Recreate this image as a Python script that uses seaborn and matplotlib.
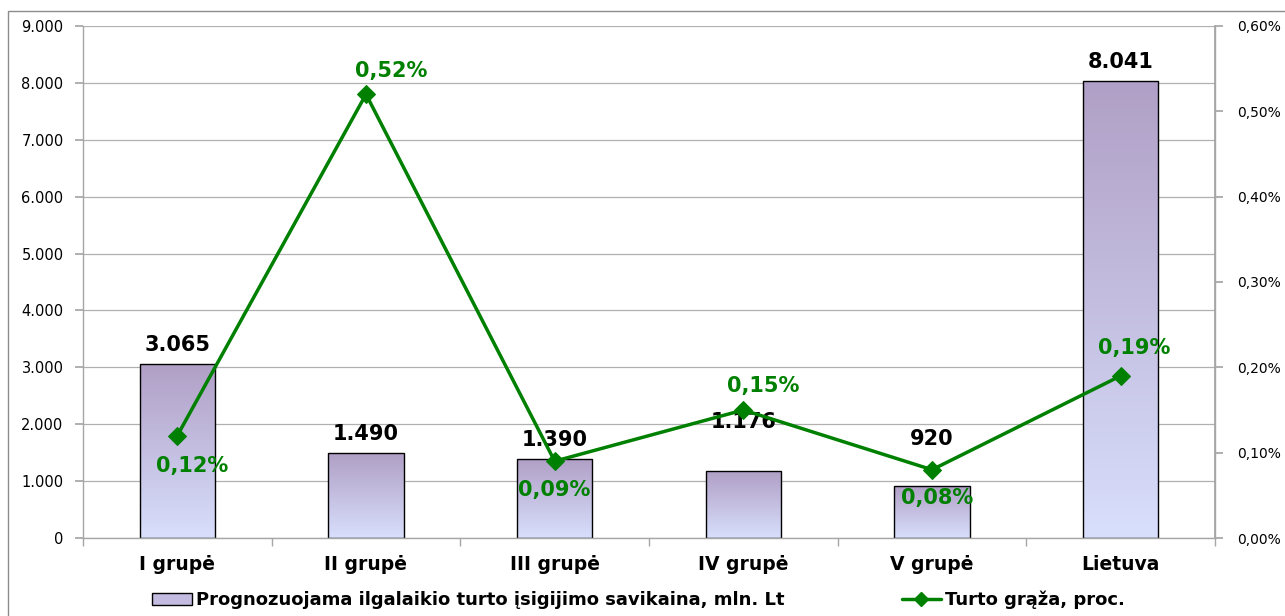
import numpy as np
import pandas as pd
import matplotlib.pyplot as plt
import matplotlib.patches as mpatches
from matplotlib.lines import Line2D
from matplotlib.ticker import FixedLocator, FuncFormatter
import seaborn as sns

# data
categories = ['I grupė', 'II grupė', 'III grupė', 'IV grupė', 'V grupė', 'Lietuva']
cost_mln_lt = [3065, 1490, 1390, 1176, 920, 8041]
return_pct = [0.12, 0.52, 0.09, 0.15, 0.08, 0.19]
bar_series = 'Prognozuojama ilgalaikio turto įsigijimo savikaina, mln. Lt'
line_series = 'Turto grąža, proc.'

df = pd.DataFrame({'grupe': categories, 'savikaina': cost_mln_lt, 'graza': return_pct})

sns.set_theme(style='white')
plt.rcParams['font.family'] = ['DejaVu Sans']
plt.rcParams['text.color'] = 'black'
plt.rcParams['xtick.color'] = 'black'
plt.rcParams['ytick.color'] = 'black'

GREEN = '#008000'
GRID = '#A6A6A6'
TOP_C = np.array([0xB0, 0x9F, 0xC6]) / 255
BOT_C = np.array([0xD8, 0xDF, 0xFC]) / 255

fig = plt.figure(figsize=(12.85, 6.16), dpi=100)
ax = fig.add_axes([83 / 1285, 1 - 538 / 616, (1215 - 83) / 1285, (538 - 26) / 616])

sns.barplot(data=df, x='grupe', y='savikaina', ax=ax, width=0.40,
            color='#C4BCE0', edgecolor='black', linewidth=1.0, zorder=2)

# vertical gradient fill for the bars
grad = np.linspace(0, 1, 256)[:, None, None]
img = TOP_C * (1 - grad) + BOT_C * grad
for p in list(ax.patches):
    x0, y0 = p.get_x(), p.get_y()
    w, h = p.get_width(), p.get_height()
    im = ax.imshow(img, extent=[x0, x0 + w, y0, y0 + h], aspect='auto',
                   origin='upper', zorder=1.9, interpolation='bilinear')
    im.set_clip_path(p)
    p.set_facecolor('none')

ax.set_xlim(-0.5, len(categories) - 0.5)
ax.set_ylim(0, 9000)
ax.yaxis.set_major_locator(FixedLocator(np.arange(0, 9001, 1000)))
ax.yaxis.set_major_formatter(FuncFormatter(lambda v, _: f'{int(v):,}'.replace(',', '.')))
ax.grid(axis='y', color='#B0B0B0', linewidth=0.9, zorder=0)
ax.set_axisbelow(True)
ax.set_xlabel('')
ax.set_ylabel('')
ax.spines['top'].set_visible(False)
for s in ['left', 'bottom', 'right']:
    ax.spines[s].set_color(GRID)
    ax.spines[s].set_linewidth(1.0)
ax.tick_params(axis='y', which='major', direction='out', length=6, color=GRID,
               labelcolor='black', labelsize=10.5, pad=8, left=True)
ax.tick_params(axis='x', which='major', length=0, labelcolor='black', labelsize=13.5, pad=12)
ax.set_xticks(np.arange(-0.5, len(categories), 1.0), minor=True)
ax.tick_params(axis='x', which='minor', direction='out', length=6, color=GRID, bottom=True)
for lbl in ax.get_xticklabels():
    lbl.set_fontweight('bold')

# bar value labels (offsets in px above bar top)
bar_offsets = [9, 9, 9, 39, 37, 9]
for i, (v, off) in enumerate(zip(cost_mln_lt, bar_offsets)):
    ax.annotate(f'{v:,}'.replace(',', '.'), (i, v), xytext=(0, off), textcoords='offset pixels',
                ha='center', va='bottom', fontsize=15, fontweight='bold', color='black')

# secondary axis with the return line
ax2 = ax.twinx()
ax2.set_position(ax.get_position())
sns.lineplot(x=np.arange(len(categories)), y=df['graza'], ax=ax2, color=GREEN,
             linewidth=2.5, marker='D', markersize=9, markeredgecolor=GREEN, zorder=5)
ax2.set_ylim(0, 0.6)
ax2.yaxis.set_major_locator(FixedLocator(np.arange(0, 0.61, 0.1)))
ax2.yaxis.set_major_formatter(FuncFormatter(lambda v, _: f'{v:.2f}%'.replace('.', ',')))
ax2.set_ylabel('')
ax2.tick_params(axis='y', direction='out', length=6, color=GRID, labelcolor='black',
                labelsize=10, pad=10, right=True)
for s in ['top', 'left', 'bottom']:
    ax2.spines[s].set_visible(False)
ax2.spines['right'].set_color(GRID)
ax2.grid(False)

# percent labels (pixel offsets from the marker)
pct_offsets = [(15, -30), (25, 23), (0, -29), (20, 24), (5, -28), (14, 28)]
for i, (v, (dx, dy)) in enumerate(zip(return_pct, pct_offsets)):
    ax2.annotate(f'{v:.2f}%'.replace('.', ','), (i, v), xytext=(dx, dy), textcoords='offset pixels',
                 ha='center', va='center', fontsize=15, fontweight='bold', color=GREEN, zorder=6)

# outer chart frame
fig.patches.append(mpatches.Rectangle((8 / 1285, -0.1), 1.2, (1 - 11 / 616) + 0.1,
                                      transform=fig.transFigure, fill=False,
                                      edgecolor='#8C8C8C', linewidth=1.0))

handles = [mpatches.Patch(facecolor='#C4BCE0', edgecolor='black', linewidth=1.0),
           Line2D([0], [0], color=GREEN, linewidth=2.5, marker='D', markersize=7)]
fig.legend(handles, [bar_series, line_series], loc='center', bbox_to_anchor=(0.497, 0.026),
           ncol=2, frameon=False, columnspacing=6.5, handlelength=2.2, handletextpad=0.2,
           labelcolor='black', prop={'family': ['DejaVu Sans'], 'weight': 'bold', 'size': 13})

fig.savefig('out.png', dpi=100)
